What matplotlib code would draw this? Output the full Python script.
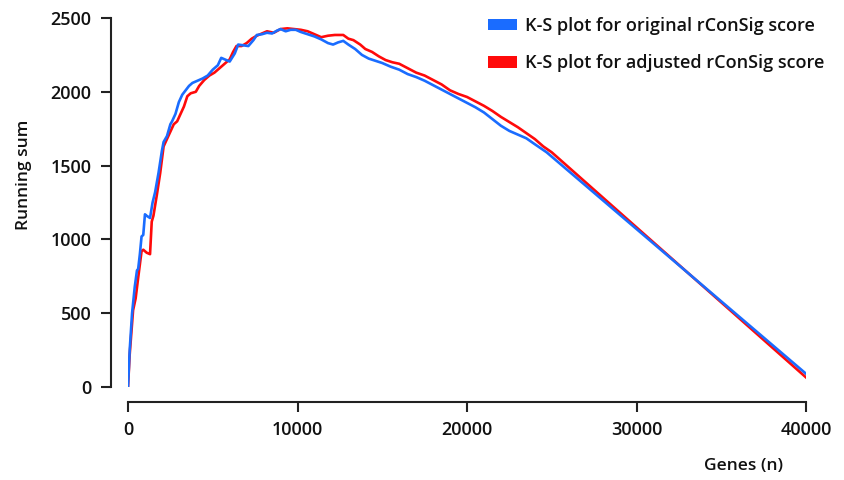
import matplotlib
matplotlib.use("Agg")
import matplotlib.pyplot as plt
from matplotlib.patches import Patch

# ---- data ----
series_names = ["K-S plot for original rConSig score",
                "K-S plot for adjusted rConSig score"]

orig_genes = [0, 100, 240, 400, 530, 600, 700, 800, 900, 1000, 1100, 1300, 1450,
              1600, 1800, 2000, 2100, 2300, 2500, 2600, 2800, 3000, 3200, 3400,
              3600, 3800, 4100, 4400, 4700, 5000, 5300, 5500, 5700, 6000, 6300,
              6500, 6800, 7100, 7400, 7600, 7900, 8200, 8500, 8800, 9000, 9300,
              9600, 9900, 10200, 10600, 11000, 11400, 11800, 12100, 12400, 12700,
              13000, 13400, 13800, 14200, 14600, 15000, 15500, 16000, 16500,
              17000, 17500, 18000, 18500, 19000, 19500, 20000, 20500, 21000,
              21500, 22000, 22500, 23000, 23500, 24000, 24700, 40000]
orig_sum = [0, 250, 500, 680, 790, 800, 900, 1020, 1030, 1170, 1160, 1145, 1250,
            1320, 1450, 1600, 1660, 1700, 1780, 1800, 1850, 1930, 1980, 2010,
            2040, 2060, 2075, 2090, 2110, 2150, 2180, 2230, 2220, 2205, 2260,
            2320, 2315, 2310, 2350, 2385, 2390, 2400, 2395, 2415, 2425, 2410,
            2420, 2420, 2405, 2390, 2375, 2355, 2330, 2320, 2335, 2345,
            2320, 2290, 2250, 2225, 2210, 2195, 2170, 2150, 2120,
            2100, 2075, 2045, 2015, 1985, 1955, 1925, 1895, 1860,
            1815, 1770, 1735, 1710, 1685, 1645, 1590, 90]

adj_genes = [0, 100, 300, 450, 600, 800, 900, 1100, 1300, 1400, 1500, 1700, 1900,
             2100, 2300, 2500, 2700, 2900, 3100, 3300, 3500, 3700, 4000, 4200,
             4500, 4800, 5100, 5400, 5700, 6000, 6200, 6400, 6700, 7000, 7300,
             7600, 7900, 8200, 8600, 9000, 9400, 9800, 10200, 10600, 11000,
             11400, 11800, 12200, 12700, 13000, 13300, 13700, 14000, 14400,
             14800, 15200, 15600, 16000, 16500, 17000, 17500, 18000, 18500,
             19000, 19500, 20000, 20500, 21000, 21500, 22000, 22500, 23000,
             23500, 24000, 24500, 25000, 40000]
adj_sum = [0, 220, 520, 600, 740, 920, 930, 910, 900, 1120, 1160, 1300, 1450,
           1630, 1680, 1730, 1780, 1800, 1850, 1900, 1970, 1990, 2000, 2040,
           2080, 2110, 2130, 2160, 2190, 2220, 2270, 2310, 2310, 2330, 2360,
           2380, 2395, 2410, 2400, 2425, 2430, 2425, 2420, 2410, 2390,
           2370, 2380, 2385, 2385, 2360, 2350, 2320, 2290, 2270,
           2240, 2215, 2200, 2190, 2160, 2130, 2110, 2080, 2050,
           2010, 1985, 1965, 1935, 1905, 1870, 1830, 1795, 1760,
           1720, 1680, 1630, 1590, 65]

x_ticks = [0, 10000, 20000, 30000, 40000]
y_ticks = [0, 500, 1000, 1500, 2000, 2500]
x_label = "Genes (n)"
y_label = "Running sum"

BLUE = "#1a6cff"
RED = "#ff0a0a"

W, H = 844, 480
fig = plt.figure(figsize=(W / 100, H / 100), dpi=100)
ax = fig.add_axes([128 / W, 1 - 387 / H, (806 - 128) / W, (387 - 18) / H])

ax.plot(adj_genes, adj_sum, color=RED, lw=1.9, solid_joinstyle="round", zorder=2)
ax.plot(orig_genes, orig_sum, color=BLUE, lw=1.9, solid_joinstyle="round", zorder=3)

ax.set_xlim(0, 40000)
ax.set_ylim(0, 2500)
ax.set_xticks(x_ticks)
ax.set_yticks(y_ticks)
ax.set_xticklabels([str(t) for t in x_ticks])
ax.set_yticklabels([str(t) for t in y_ticks])

for s in ["top", "right"]:
    ax.spines[s].set_visible(False)
ax.spines["left"].set_position(("outward", 12.2))
ax.spines["bottom"].set_position(("outward", 10.8))
ax.spines["left"].set_bounds(0, 2500)
ax.spines["bottom"].set_bounds(0, 40000)
for s in ["left", "bottom"]:
    ax.spines[s].set_linewidth(1.5)
    ax.spines[s].set_color("#222222")

ax.tick_params(axis="both", direction="out", length=7, width=1.5, color="#222222",
               pad=7)
for lab in ax.get_xticklabels() + ax.get_yticklabels():
    lab.set_fontfamily("Open Sans")
    lab.set_fontweight("semibold")
    lab.set_fontsize(13)
    lab.set_color("#111111")

fig.text(783 / W, 1 - 466 / H, x_label, ha="right", va="center",
         fontfamily="Open Sans", fontweight="semibold", fontsize=12.5, color="#111111")
fig.text(24 / W, 1 - 175 / H, y_label, ha="center", va="center", rotation=90,
         fontfamily="Open Sans", fontweight="semibold", fontsize=12.5, color="#111111")

handles = [Patch(facecolor=BLUE, edgecolor="none", label=series_names[0]),
           Patch(facecolor=RED, edgecolor="none", label=series_names[1])]
leg = fig.legend(handles=handles, loc="upper left",
                 bbox_to_anchor=(488 / W, 1 - 17 / H), frameon=False,
                 prop=dict(family="Open Sans", weight="semibold", size=13),
                 handlelength=1.6, handleheight=0.62, handletextpad=0.45,
                 labelspacing=1.08, borderpad=0, borderaxespad=0)
for t in leg.get_texts():
    t.set_color("#111111")

fig.savefig("out.png", dpi=100, facecolor="white")
